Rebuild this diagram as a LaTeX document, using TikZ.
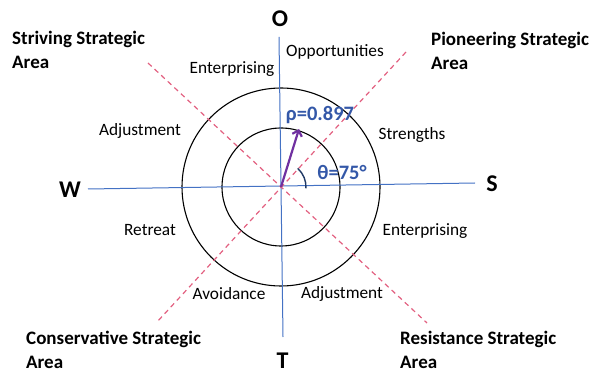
\documentclass[tikz,border=0pt]{standalone}
\usepackage{fontspec}
\setmainfont{Carlito}
\usetikzlibrary{arrows.meta}
\definecolor{axisblue}{RGB}{68,114,196}
\definecolor{dashred}{RGB}{226,96,128}
\definecolor{vecpurple}{RGB}{112,48,160}
\definecolor{labelblue}{RGB}{52,88,168}
\definecolor{arcnavy}{RGB}{31,56,100}

\begin{document}
\begin{tikzpicture}[x=1pt,y=-1pt,
  area/.style={align=left,anchor=west,inner sep=0pt,font=\bfseries\fontsize{19}{24}\selectfont},
  sector/.style={font=\fontsize{17.3}{20}\selectfont},
  pole/.style={anchor=base,inner sep=0pt,font=\bfseries\fontsize{24}{28}\selectfont}]
\useasboundingbox (0,0) rectangle (594,371);
\coordinate (c) at (281,187);

% circles
\draw[black, line width=1.1pt] (c) circle[radius=99pt];
\draw[black, line width=1.1pt] (c) circle[radius=59pt];

% axes
\draw[axisblue, line width=1pt] (88,189) -- (475,183);
\draw[axisblue, line width=1pt] (279,37) -- (283,337);

% diagonals between the strategic areas
\draw[dashred, line width=1.2pt, dash pattern=on 5pt off 4pt] (148,63) -- (427,323);
\draw[dashred, line width=1.2pt, dash pattern=on 5pt off 4pt] (406,52) -- (157,322);

% vector and angle
\coordinate (tip) at (299,129);
\draw[vecpurple, line width=2.2pt, -{Straight Barb[length=5pt,width=10pt]}] (c) -- (tip);
\draw[arcnavy, line width=1.4pt] (c) ++(-3:25pt) arc[start angle=-3,end angle=48,radius=25pt];
\node[labelblue, font=\bfseries\fontsize{20.5}{24}\selectfont] (rho) at (320,115) {ρ=0.897};
\node[labelblue, font=\bfseries\fontsize{20.5}{24}\selectfont] (theta) at (342,172) {θ=75°};

% poles
\node[pole] (O) at (280,27) {O};
\node[pole] (T) at (282.5,368) {T};
\node[pole] (W) at (70,198) {W};
\node[pole] (S) at (492,192) {S};

% sectors
\node[sector] (opp) at (335,52) {Opportunities};
\node[sector] (entl) at (232,69) {Enterprising};
\node[sector] (adjl) at (140,131) {Adjustment};
\node[sector] (str) at (412,135) {Strengths};
\node[sector] (retr) at (150,230) {Retreat};
\node[sector] (entr) at (425,231) {Enterprising};
\node[sector] (avoid) at (229,294) {Avoidance};
\node[sector] (adjr) at (342,294) {Adjustment};

% strategic areas
\node[area] (striving) at (12,50) {Striving Strategic\\Area};
\node[area] (pioneer) at (431,51) {Pioneering Strategic\\Area};
\node[area] (conserv) at (26,350) {Conservative Strategic\\Area};
\node[area] (resist) at (400,350) {Resistance Strategic\\Area};
\end{tikzpicture}
\end{document}
